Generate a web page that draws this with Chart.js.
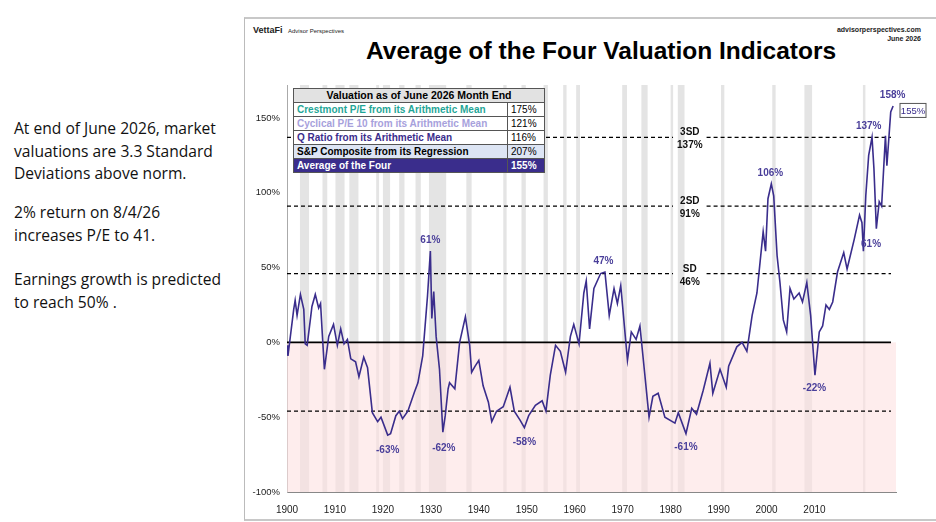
<!DOCTYPE html>
<html><head><meta charset="utf-8">
<script src="https://cdn.jsdelivr.net/npm/chart.js@4"></script>
<style>
body{margin:0;width:936px;height:522px;background:#fff;font-family:Arial,"Liberation Sans",sans-serif;position:relative;overflow:hidden}
#c{position:absolute;left:0;top:0}
.frame{position:absolute;left:244px;top:17px;width:700px;height:500px;border-top:2px solid #c8c8c8;border-left:1px solid #bbb;border-bottom:2px solid #c8c8c8}
.lt{position:absolute;left:14px;font-family:"Open Sans",sans-serif;font-size:15.6px;line-height:22.5px;color:#111}
.abs{position:absolute;white-space:nowrap}
table{position:absolute;left:293px;top:88px;border-collapse:collapse;font-size:10px;font-weight:bold;width:252px}
td{border:1px solid #555;padding:0 3px;height:13px;line-height:13px}
</style></head><body>
<div class="frame"></div>
<div class="lt" style="top:117px">At end of June 2026, market<br>valuations are 3.3 Standard<br>Deviations above norm.</div>
<div class="lt" style="top:201px">2% return on 8/4/26<br>increases P/E to 41.</div>
<div class="lt" style="top:268px">Earnings growth is predicted<br>to reach 50% .</div>
<div class="abs" style="left:253px;top:25px;font-size:9px;font-weight:bold;color:#222">VettaFi <span style="font-size:6px;font-weight:normal;margin-left:3px">Advisor Perspectives</span></div>
<div class="abs" style="right:15px;top:25px;font-size:7px;font-weight:bold;text-align:right;line-height:9px;color:#222">advisorperspectives.com<br>June 2026</div>
<div class="abs" style="left:366px;top:37px;font-size:24.5px;font-weight:bold;color:#000">Average of the Four Valuation Indicators</div>
<canvas id="c" width="936" height="522"></canvas>
<table id="tb"></table>
<script>
const tableRows=["Crestmont P/E from its Arithmetic Mean","Cyclical P/E 10 from its Arithmetic Mean","Q Ratio from its Arithmetic Mean","S&P Composite from its Regression","Average of the Four"];
const tableVals=["175%","121%","116%","207%","155%"];
const years=[1900,1900.2,1901.4,1901.7,1902.1,1902.8,1903.5,1903.8,1904.2,1904.9,1905.2,1905.9,1906.6,1907,1907.3,1907.8,1908.7,1909.7,1910.5,1911.2,1911.9,1912.6,1913.3,1914.3,1915,1916,1916.8,1917.8,1918.9,1919.6,1921,1921.6,1922.7,1923.4,1924.1,1925.2,1926.6,1927.3,1928.3,1929.3,1929.9,1930.2,1930.6,1931.1,1931.8,1932.5,1933,1933.6,1933.9,1935,1936,1937.2,1938.1,1938.5,1939.2,1940,1940.9,1942,1942.7,1943.7,1945.1,1946.5,1947.4,1948.6,1949.5,1950.4,1951.8,1953.2,1954,1954.9,1956,1957,1958.1,1959.1,1959.8,1960.9,1961.9,1962.4,1963.1,1964,1965.4,1966.3,1967.2,1968.2,1968.9,1969.6,1971,1971.8,1972.8,1973.6,1974.6,1975.5,1976.3,1977.4,1978.8,1980.9,1981.6,1983.2,1984.4,1985.4,1986.8,1988.2,1988.8,1990.3,1991.6,1992.1,1993.8,1994.9,1995.9,1997,1998,1998.6,1999.3,1999.8,2000.3,2001,2001.5,2002.2,2002.8,2003.5,2004.2,2004.9,2005.7,2006.8,2007.5,2008.4,2009.2,2010.1,2011,2011.7,2012.4,2013.1,2013.8,2014.8,2016.1,2016.8,2018.3,2019.4,2019.9,2020.2,2020.7,2021.3,2022,2022.4,2022.9,2023.5,2024,2024.8,2025.1,2025.9,2026.4];
const values=[-2,-9,22,28,18,32,22,-1,-2,16,24,32,23,26,9,-18,4,12,-2,9,-1,2,-11,-13,-23,-10,-17,-47,-53,-50,-62,-61,-49,-46,-51,-46,-33,-27,-9,31,61,16,34,4,-18,-60,-49,-31,-27,-31,0,17,-2,-20,-16,-12,-29,-40,-53,-46,-43,-30,-46,-52,-57,-49,-42,-39,-46,-22,-2,-6,-20,4,12,-1,33,41,9,36,46,47,18,36,26,38,-12,7,2,11,-21,-50,-36,-34,-50,-54,-47,-61,-44,-48,-32,-14,-34,-18,-30,-16,-3,0,-6,18,33,52,74,61,96,106,98,58,40,15,7,36,29,33,27,40,18,-22,7,11,25,22,27,47,60,49,69,85,80,61,98,125,137,116,76,94,91,138,118,154,158];
const recessions=[[1902.7,1904.6],[1907.4,1908.4],[1910.1,1912],[1913,1914.9],[1918.6,1919.2],[1920,1921.5],[1923.4,1924.5],[1926.8,1927.9],[1929.6,1933.2],[1937.4,1938.5],[1945.1,1945.8],[1948.9,1949.8],[1953.5,1954.4],[1957.6,1958.3],[1960.3,1961.1],[1969.9,1970.9],[1973.9,1975.2],[1980,1980.5],[1981.5,1982.9],[1990.5,1991.2],[2001.2,2001.9],[2007.9,2009.5],[2020.1,2020.4]];
const sdLevels=[137,91,46,-46];
const sdNames=["3SD","2SD","SD",""];
const callouts=[[1929.9,61,"61%",-1],[1921,-63,"-63%",1],[1932.7,-62,"-62%",1],[1949.5,-58,"-58%",1],[1966,47,"47%",-1],[1983.2,-61,"-61%",1],[2000.8,106,"106%",-1],[2010,-22,"-22%",1],[2021.8,61,"61%",0],[2021.3,137,"137%",-1],[2026.3,158,"158%",-1]];
const P='#3a2d8c';
document.getElementById('tb').innerHTML=
 '<tr><td colspan="2" style="background:#e2e2e2;text-align:center;font-size:10.5px">Valuation as of June 2026 Month End</td></tr>'+
 tableRows.map((r,i)=>{const st=[['#fff','#1fa697'],['#fff','#a7a1dc'],['#fff',P],['#dde5f4','#000'],[P,'#fff']][i];
 return `<tr style="background:${st[0]}"><td style="color:${st[1]}">${r.replace('&','&amp;')}</td><td style="width:30px;color:${i==4?'#fff':'#000'};font-weight:${i==4?'bold':'normal'}">${tableVals[i]}</td></tr>`}).join('');
const bg={id:'bg',beforeDatasetsDraw(ch){const c=ch.ctx,x=ch.scales.x,y=ch.scales.y,a=ch.chartArea;c.save();
 c.fillStyle='#e4e4e4';recessions.forEach(r=>{const x1=x.getPixelForValue(r[0]),x2=x.getPixelForValue(r[1]);c.fillRect(x1,a.top,Math.max(2.5,x2-x1),a.bottom-a.top)});
 c.fillStyle='rgba(253,225,225,0.6)';const z=y.getPixelForValue(0);c.fillRect(a.left,z,a.right-a.left,a.bottom-z);
 c.strokeStyle='#000';c.lineWidth=1.8;c.beginPath();c.moveTo(a.left,z);c.lineTo(a.right-5,z);c.stroke();
 const gx=x.getPixelForValue(1980.5),gx2=x.getPixelForValue(1987.5);
 c.lineWidth=1.3;c.setLineDash([4,3]);sdLevels.forEach((v,i)=>{const py=y.getPixelForValue(v);c.beginPath();c.moveTo(a.left,py);
  if(sdNames[i]){c.lineTo(gx,py);c.moveTo(gx2,py)}c.lineTo(a.right-5,py);c.stroke()});
 c.setLineDash([]);c.fillStyle='#111';c.font='bold 10px Arial';c.textAlign='center';
 sdLevels.forEach((v,i)=>{if(!sdNames[i])return;const py=y.getPixelForValue(v);const cx=(gx+gx2)/2;c.fillText(sdNames[i],cx,py-2);c.fillText(v+'%',cx,py+11)});
 c.restore()},
 afterDatasetsDraw(ch){const c=ch.ctx,x=ch.scales.x,y=ch.scales.y;c.save();c.fillStyle='#4a3f9a';c.font='bold 10px Arial';c.textAlign='center';
 callouts.forEach(k=>{const px=x.getPixelForValue(k[0]),py=y.getPixelForValue(k[1]);c.fillText(k[2],px,k[3]<0?py-8:k[3]>0?py+16:py-4)});
 const py=y.getPixelForValue(155),px=ch.chartArea.right+4;c.strokeStyle='#555';c.lineWidth=1;c.fillStyle='#fff';c.fillRect(px,py-7,26,14);c.strokeRect(px,py-7,26,14);
 c.fillStyle=P;c.font='9.5px Arial';c.fillText(tableVals[4],px+13,py+3.5);c.restore()}};
new Chart(document.getElementById('c'),{type:'line',
 data:{datasets:[{data:years.map((y,i)=>({x:y,y:values[i]})),borderColor:P,borderWidth:1.6,pointRadius:0,tension:0}]},
 options:{responsive:false,animation:false,layout:{padding:{top:85,right:40,left:0,bottom:0}},
  plugins:{legend:{display:false},tooltip:{enabled:false}},
  scales:{x:{type:'linear',min:1900,max:2027,afterBuildTicks:s=>{s.ticks=s.ticks.filter(t=>t.value%10===0)},afterFit:s=>{s.height=30},
    ticks:{stepSize:10,color:'#222',font:{size:10},maxRotation:0,padding:4,callback:v=>String(v)},grid:{display:false},border:{color:'#888'}},
   y:{min:-100,max:172,afterBuildTicks:s=>{s.ticks=s.ticks.filter(t=>t.value%50===0)},afterFit:s=>{s.width=287},
    ticks:{stepSize:50,color:'#222',font:{size:9.5},callback:v=>v+'%',padding:7},grid:{display:false,drawTicks:false},border:{color:'#aaa'}}}},
 plugins:[bg]});
</script></body></html>
